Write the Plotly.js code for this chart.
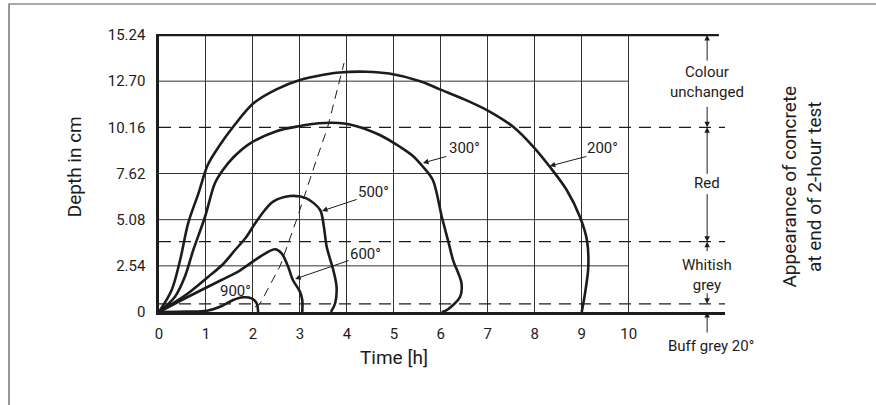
<!DOCTYPE html>
<html>
<head>
<meta charset="utf-8">
<script src="https://cdn.plot.ly/plotly-3.0.1.min.js"></script>
<style>html,body{margin:0;padding:0;background:#fff;}#chart{width:876px;height:405px;}</style>
</head>
<body>
<div id="chart"></div>
<script>
// ---- data ----
const xTicks = [0,1,2,3,4,5,6,7,8,9,10];
const yTicks = [0,2.54,5.08,7.62,10.16,12.70,15.24];
const yTickLabels = ["0","2.54","5.08","7.62","10.16","12.70","15.24"];

const t200 = [0,0.27,0.45,0.62,0.84,1.04,1.3,1.58,2.01,2.5,3.0,3.5,3.85,4.42,4.9,5.56,5.98,6.5,7.01,7.54,7.97,8.32,8.68,8.96,9.11,9.14,9.07,9.0];
const d200 = [0,1.21,2.86,4.88,6.53,8.1,9.2,10.19,11.48,12.25,12.76,13.05,13.18,13.22,13.12,12.7,12.25,11.7,11.07,10.19,9.09,7.99,6.71,5.24,3.96,2.49,1.03,0];

const t300 = [0,0.34,0.55,0.73,0.98,1.19,1.36,1.58,1.94,2.5,3.0,3.4,3.7,4.13,4.7,5.13,5.4,5.62,5.83,6.02,6.16,6.26,6.44,6.41,6.13,6.02];
const d300 = [0,0.84,1.94,3.41,5.24,7.08,7.81,8.5,9.28,9.95,10.23,10.38,10.41,10.28,9.74,9.09,8.6,7.99,7.26,5.24,3.87,2.86,1.58,0.84,0.11,0];

const t500 = [0,0.62,1.05,1.35,1.62,1.85,2.04,2.25,2.43,2.79,3.14,3.43,3.51,3.57,3.71,3.78,3.75,3.66];
const d500 = [0,1.03,1.94,2.6,3.41,4.1,4.85,5.6,6.07,6.38,6.25,5.61,4.69,3.59,2.31,1.39,0.48,0];

const t600 = [0,0.62,1.33,1.72,2.04,2.25,2.47,2.61,2.75,2.85,3.0,3.05,3.05];
const d600 = [0,0.84,1.76,2.28,2.85,3.2,3.45,3.23,2.49,1.76,1.12,0.66,0];

const t900 = [0,0.6,1.02,1.3,1.58,1.79,1.97,2.08,2.11];
const d900 = [0,0.02,0.07,0.29,0.66,0.81,0.75,0.48,0];

const tDiag = [2.04,2.15,2.58,2.93,3.35,3.59,3.94];
const dDiag = [0.27,0.45,2.54,5.08,8.36,10.16,13.7];

const curveNames = ["200°","300°","500°","600°","900°"];
const zoneBounds = [15.24,10.16,3.87,0.45,0];
const zoneLabels = ["Colour<br>unchanged","Red","Whitish<br>grey","Buff grey 20°"];

// ---- drawing ----
const ink = '#1c1c1c';
const FONT = 'Roboto, "DejaVu Sans", sans-serif';
const curveLine = {color: ink, width: 2.6, shape: 'spline', smoothing: 0.9};

function curve(t, d, name) {
  return {x: t, y: d, type: 'scatter', mode: 'lines', name: name, line: curveLine, cliponaxis: false, hoverinfo: 'skip'};
}
const traces = [
  curve(t200, d200, curveNames[0]),
  curve(t300, d300, curveNames[1]),
  curve(t500, d500, curveNames[2]),
  curve(t600, d600, curveNames[3]),
  curve(t900, d900, curveNames[4]),
  {x: tDiag, y: dDiag, type: 'scatter', mode: 'lines', line: {color: ink, width: 1, dash: '9px,6px'}, hoverinfo: 'skip'}
];

const xMax = 12.05;
const xTop = 11.92;
const xDim = 11.67;
const shapes = [];
yTicks.forEach(v => {
  if (v > 0 && v < 15.24 && v !== 10.16) {
    shapes.push({type: 'line', xref: 'x', yref: 'y', x0: 0, x1: 10, y0: v, y1: v, line: {color: '#333', width: 1}, layer: 'below'});
  }
});
zoneBounds.forEach(v => {
  if (v > 0 && v < 15.24) {
    shapes.push({type: 'line', xref: 'x', yref: 'y', x0: 0, x1: xMax, y0: v, y1: v, line: {color: ink, width: 1.2, dash: '12px,8px'}});
  }
});
shapes.push({type: 'line', xref: 'x', yref: 'y', x0: 0, x1: xTop, y0: 15.24, y1: 15.24, line: {color: ink, width: 2.6}});
shapes.push({type: 'rect', xref: 'paper', yref: 'paper', x0: -0.265, x1: 1.6, y0: -0.6, y1: 1.108, line: {color: '#555', width: 1.2}});

const px = 15.24 / 277;
const annotations = [];
const segs = [
  [15.24, 15.24 - 27*px],
  [10.16, 10.16 + 22*px],
  [10.16, 10.16 - 48*px],
  [3.87, 3.87 + 49*px],
  [3.87, 3.87 - 11*px],
  [0.45, 0.45 + 12*px]
];
segs.forEach(s => {
  annotations.push({x: xDim, y: s[0], ax: xDim, ay: s[1], axref: 'x', ayref: 'y', xref: 'x', yref: 'y',
    text: '', showarrow: true, arrowhead: 2, arrowsize: 1.1, arrowwidth: 1, arrowcolor: ink});
});
annotations.push({x: xDim, y: 0, xref: 'x', yref: 'y', ax: 0, ay: 22, text: '', showarrow: true,
  arrowhead: 2, arrowsize: 1.1, arrowwidth: 1, arrowcolor: ink});
const zoneY = [12.65, 7.1, 2.04];
zoneY.forEach((yv, i) => {
  annotations.push({x: xDim, y: yv, xref: 'x', yref: 'y', text: zoneLabels[i], showarrow: false,
    xanchor: 'center', yanchor: 'middle', font: {family: FONT, size: 15, color: ink}, align: 'center'});
});
annotations.push({x: xDim + 0.09, y: 0, xref: 'x', yref: 'y', yshift: -34, text: zoneLabels[3], showarrow: false,
  xanchor: 'center', yanchor: 'middle', font: {family: FONT, size: 15, color: ink}});
const labPos = [[9.45,9.02],[6.51,9.02],[4.56,6.6],[4.39,3.19],[1.62,1.16]];
const leaders = [[[9.13,8.58],[8.32,8.03]], [[6.15,8.58],[5.62,8.2]], [[4.24,6.22],[3.47,5.56]], [[4.07,2.86],[2.9,1.82]], null];
curveNames.forEach((n, i) => {
  annotations.push({x: labPos[i][0], y: labPos[i][1], xref: 'x', yref: 'y', text: n, showarrow: false,
    xanchor: 'center', yanchor: 'middle', font: {family: FONT, size: 15, color: ink}});
  if (leaders[i]) {
    annotations.push({x: leaders[i][1][0], y: leaders[i][1][1], ax: leaders[i][0][0], ay: leaders[i][0][1],
      axref: 'x', ayref: 'y', xref: 'x', yref: 'y', text: '', showarrow: true, arrowhead: 2, arrowsize: 1.1, arrowwidth: 1, arrowcolor: ink});
  }
});
annotations.push({xref: 'paper', yref: 'paper', x: -0.149, y: 0.523, text: 'Depth in cm', textangle: -90, showarrow: false,
  xanchor: 'center', yanchor: 'middle', font: {family: FONT, size: 19, color: ink}});
annotations.push({xref: 'paper', yref: 'paper', x: 0.415, y: -0.162, text: 'Time [h]', showarrow: false,
  xanchor: 'center', yanchor: 'middle', font: {family: FONT, size: 19, color: ink}});
annotations.push({xref: 'paper', yref: 'paper', x: 1.136, y: 0.451, text: 'Appearance of concrete<br>at end of 2-hour test', textangle: -90, showarrow: false,
  xanchor: 'center', yanchor: 'middle', font: {family: FONT, size: 19, color: ink}, align: 'center'});

const layout = {
  width: 876, height: 405,
  margin: {l: 159, r: 876 - 159 - 566, t: 312 - 278, b: 405 - 312},
  paper_bgcolor: '#fff', plot_bgcolor: '#fff',
  showlegend: false,
  xaxis: {range: [0, xMax], tickmode: 'array', tickvals: xTicks, ticktext: xTicks.map(String),
    showgrid: true, gridcolor: '#333', gridwidth: 1, zeroline: false,
    showline: true, linecolor: ink, linewidth: 2.6, ticks: '', ticklabelstandoff: 6,
    tickfont: {family: FONT, size: 15, color: ink}, fixedrange: true},
  yaxis: {range: [0, 15.24 * 278 / 277], tickmode: 'array', tickvals: yTicks, ticktext: yTickLabels,
    showgrid: false, zeroline: false, showline: true, linecolor: ink, linewidth: 2.6, ticks: '', ticklabelstandoff: 8,
    tickfont: {family: FONT, size: 15, color: ink}, fixedrange: true},
  shapes: shapes,
  annotations: annotations
};
Plotly.newPlot('chart', traces, layout, {staticPlot: true, displayModeBar: false});
</script>
</body>
</html>
